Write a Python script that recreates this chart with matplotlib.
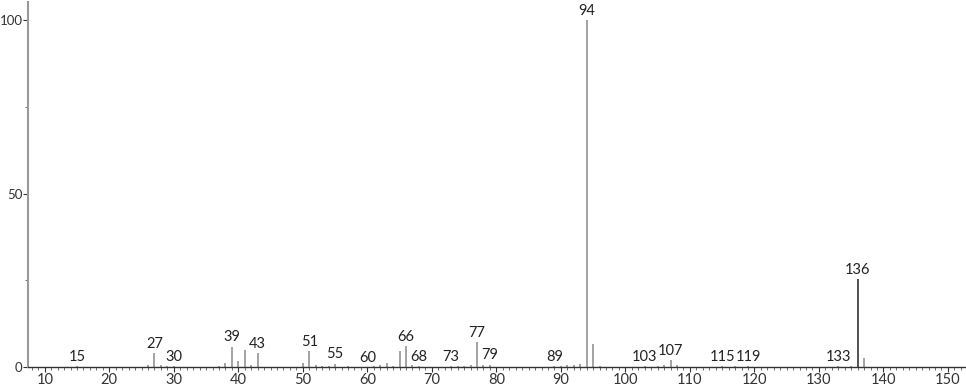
import matplotlib.pyplot as plt
from matplotlib.ticker import MultipleLocator

# 质谱数据 (m/z, 相对丰度)
mz = [15, 26, 27, 28, 29, 30, 37, 38, 39, 40, 41, 42, 43, 50, 51, 52, 53, 54, 55, 57,
      61, 62, 63, 64, 65, 66, 67, 68, 73, 74, 75, 76, 77, 78, 79, 89, 90, 91, 92, 93,
      94, 95, 96, 103, 105, 106, 107, 108, 115, 117, 119, 133, 135, 136, 137]
intensity = [0.3, 0.6, 3.9, 0.5, 0.4, 0.3, 0.4, 1.1, 5.9, 1.7, 4.9, 0.5, 4.1, 1.2, 4.7, 0.5, 0.4, 0.3, 1.0, 0.3,
             0.4, 0.6, 1.2, 0.4, 4.6, 6.0, 0.6, 0.3, 0.3, 0.3, 0.4, 0.5, 7.1, 0.5, 0.7, 0.3, 0.4, 0.5, 0.6, 1.0,
             100.0, 6.6, 0.4, 0.3, 0.4, 0.5, 2.0, 0.5, 0.3, 0.3, 0.3, 0.3, 0.4, 25.3, 2.7]
labels = [15, 27, 30, 39, 43, 51, 55, 60, 66, 68, 73, 77, 79, 89, 94, 103, 107, 115, 119, 133, 136]

plt.rcParams['font.family'] = ['Lato', 'DejaVu Sans']

fig = plt.figure(figsize=(9.66, 3.89), dpi=100)
ax = fig.add_axes([0.029, 0.0566, 0.971, 0.938])

colors = ['#222222' if m == 136 else '#8a8a8a' for m in mz]
ax.vlines(mz, 0, intensity, colors=colors, linewidth=1.1)

# 标注峰值
lookup = dict(zip(mz, intensity))
for m in labels:
    h = lookup.get(m, 0.0)
    ax.annotate(str(m), (m, h), xytext=(0, 1.5), textcoords='offset points',
                ha='center', va='bottom', fontsize=10.5, color='#222222')

ax.set_xlim(7.4, 152.8)
ax.set_ylim(0, 105.2)
ax.xaxis.set_major_locator(MultipleLocator(10))
ax.xaxis.set_minor_locator(MultipleLocator(1))
ax.yaxis.set_major_locator(MultipleLocator(50))
ax.yaxis.set_minor_locator(MultipleLocator(25))

for s in ['top', 'right']:
    ax.spines[s].set_visible(False)
ax.spines['left'].set_color('#999999')
ax.spines['left'].set_linewidth(1.5)
ax.spines['bottom'].set_color('#333333')
ax.spines['bottom'].set_linewidth(1.0)
ax.tick_params(axis='both', which='major', length=3.5, width=0.8, labelsize=10.5, colors='#333333', pad=1)
ax.tick_params(axis='y', which='major', labelsize=9.5, pad=0.5)
ax.tick_params(axis='both', which='minor', length=2, width=0.6, colors='#555555')

fig.savefig('out.png', dpi=100)
